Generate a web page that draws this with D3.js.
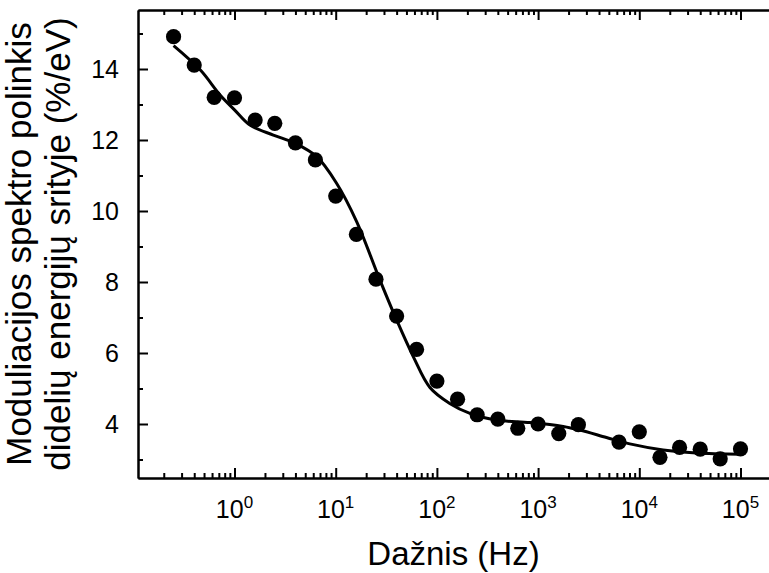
<!DOCTYPE html>
<html>
<head>
<meta charset="utf-8">
<script src="https://cdn.jsdelivr.net/npm/d3@7"></script>
<style>
html,body{margin:0;padding:0;background:#fff;}
svg{display:block;font-family:Arial,"Liberation Sans",Helvetica,sans-serif;}
</style>
</head>
<body>
<svg id="chart" width="769" height="573"></svg>
<script>
// ---- data ----
const freq = [0.25, 0.4, 0.63, 1, 1.6, 2.5, 4, 6.3, 10, 16, 25, 40, 63, 100, 160, 250, 400, 630, 1000, 1600, 2500, 6300, 10000, 16000, 25000, 40000, 63000, 100000];
const slope = [14.91, 14.11, 13.20, 13.19, 12.56, 12.47, 11.92, 11.44, 10.42, 9.34, 8.08, 7.04, 6.10, 5.21, 4.70, 4.26, 4.14, 3.88, 4.00, 3.73, 3.98, 3.49, 3.78, 3.06, 3.34, 3.29, 3.02, 3.30];
const fitFreq = [0.25, 0.46, 0.72, 1.0, 1.42, 2.42, 3.96, 6.5, 10.2, 16.1, 27.3, 40, 58.4, 85.3, 134, 212, 389, 830, 1770, 2580, 4740, 8060, 17200, 36700, 100000];
const fitSlope = [14.66, 13.97, 13.27, 12.85, 12.42, 12.14, 11.91, 11.53, 10.78, 9.70, 8.06, 6.93, 5.90, 5.03, 4.58, 4.30, 4.11, 4.04, 3.93, 3.83, 3.62, 3.44, 3.27, 3.18, 3.15];
const yTicks = [4, 6, 8, 10, 12, 14];
const yMinor = [3, 5, 7, 9, 11, 13, 15];
const xDecades = [0, 1, 2, 3, 4, 5];
const xTitle = "Dažnis (Hz)";
const yTitle = ["Moduliacijos spektro polinkis", "didelių energijų srityje (%/eV)"];

// ---- layout ----
const svg = d3.select("#chart");
const L = 138, R = 769, T = 10, B = 478;
const p0 = 234.5, dec = 101.2; // pixel of 10^0, pixels per decade
const x = d3.scaleLog()
  .domain([Math.pow(10, (L - p0) / dec), Math.pow(10, (R - p0) / dec)])
  .range([L, R]);
const y = d3.scaleLinear().domain([14 - (B - 69) / 35.5, 14 + (69 - T) / 35.5]).range([B, T]);

// minor x ticks
const xMajorVals = xDecades.map(d => Math.pow(10, d));
const xMinorVals = [];
for (let d = -1; d <= 5; d++) {
  for (let k = 2; k <= 9; k++) {
    const v = k * Math.pow(10, d);
    if (v >= x.domain()[0] && v <= x.domain()[1]) xMinorVals.push(v);
  }
}

function styleAxis(g) {
  g.selectAll("path.domain").attr("stroke", "#000").attr("stroke-width", 2);
  g.selectAll(".tick line").attr("stroke", "#000").attr("stroke-width", 2);
}

// bottom axis
const gB = svg.append("g").attr("transform", `translate(0,${B})`);
gB.append("g").call(d3.axisBottom(x).tickValues(xMajorVals).tickSize(-10).tickSizeOuter(0).tickFormat("")).call(styleAxis);
gB.append("g").call(d3.axisBottom(x).tickValues(xMinorVals).tickSize(-5).tickSizeOuter(0).tickFormat("")).call(styleAxis);
// top axis
const gT = svg.append("g").attr("transform", `translate(0,${T})`);
gT.append("g").call(d3.axisTop(x).tickValues(xMajorVals).tickSize(-10).tickSizeOuter(0).tickFormat("")).call(styleAxis);
gT.append("g").call(d3.axisTop(x).tickValues(xMinorVals).tickSize(-5).tickSizeOuter(0).tickFormat("")).call(styleAxis);
// left axis
const gL = svg.append("g").attr("transform", `translate(${L},0)`);
gL.append("g").call(d3.axisLeft(y).tickValues(yTicks).tickSize(-10).tickSizeOuter(0).tickPadding(19).tickFormat(d3.format("d"))).call(styleAxis)
  .selectAll("text").attr("font-size", 25).attr("fill", "#000").attr("font-family", "Arial, 'Liberation Sans', sans-serif");
gL.append("g").call(d3.axisLeft(y).tickValues(yMinor).tickSize(-5).tickSizeOuter(0).tickFormat("")).call(styleAxis);

// x tick labels with superscripts
const xl = svg.append("g").attr("font-size", 25).attr("fill", "#000");
xDecades.forEach(d => {
  const t = xl.append("text").attr("x", x(Math.pow(10, d))).attr("y", 518).attr("text-anchor", "middle");
  t.append("tspan").text("10");
  t.append("tspan").attr("font-size", 17).attr("dy", -10).text(d);
});

// fit curve
const line = d3.line().x((d, i) => x(fitFreq[i])).y(d => y(d)).curve(d3.curveCatmullRom.alpha(0.5));
svg.append("path").datum(fitSlope).attr("d", line)
  .attr("fill", "none").attr("stroke", "#000").attr("stroke-width", 3);

// points
svg.append("g").selectAll("circle").data(slope).join("circle")
  .attr("cx", (d, i) => x(freq[i])).attr("cy", d => y(d)).attr("r", 7.6).attr("fill", "#000");

// titles
svg.append("text").attr("x", (L + R) / 2).attr("y", 565).attr("text-anchor", "middle")
  .attr("font-size", 33).attr("fill", "#000").text(xTitle);
const yt = svg.append("text").attr("transform", `translate(0,${(T + B) / 2}) rotate(-90)`)
  .attr("text-anchor", "middle").attr("font-size", 35).attr("fill", "#000");
yt.append("tspan").attr("x", 0).attr("y", 31).text(yTitle[0]);
yt.append("tspan").attr("x", 0).attr("y", 70).text(yTitle[1]);
</script>
</body>
</html>
